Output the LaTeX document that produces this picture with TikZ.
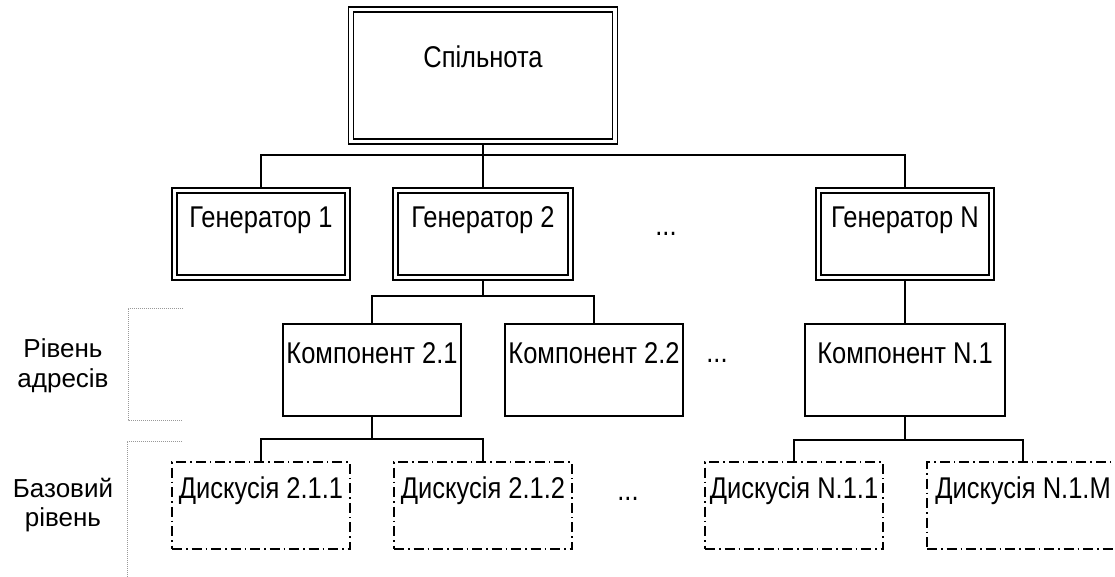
\documentclass[tikz,border=0pt]{standalone}
\usepackage{fontspec}
\setmainfont{Liberation Sans}[FakeStretch=0.85]
\newfontfamily\lvlfont{Liberation Sans}
\pgfdeclarelayer{bg}
\pgfsetlayers{bg,main}
\begin{document}
\begin{tikzpicture}[x=1pt,y=-1pt,line width=1.4pt,
  txt/.style={font=\fontsize{30}{32}\selectfont, inner sep=0pt},
  lvl/.style={font=\lvlfont\fontsize{26}{30}\selectfont, inner sep=0pt, anchor=base},
  gbox/.style={txt, draw, double, double distance=3.6pt, minimum width=173pt, text height=36.5pt, text depth=50.5pt},
  kbox/.style={txt, draw, minimum width=178pt, text height=39pt, text depth=53pt},
  dbox/.style={txt, draw, dash pattern=on 10pt off 4pt on 1.5pt off 4pt, minimum width=178pt, text height=36pt, text depth=51pt},
  brk/.style={draw=black!40, line width=0.8pt, dash pattern=on 1pt off 1pt},
  conn/.style={draw, line width=1.4pt}]
\useasboundingbox (0,0) rectangle (1115,576);

% boxes
\node[gbox, minimum width=264pt, text height=57.5pt, text depth=74.5pt] (top) at (483,75.5) {Спільнота};
\node[gbox] (g1) at (261,234) {Генератор 1};
\node[gbox, minimum width=175pt] (g2) at (483,234) {Генератор 2};
\node[gbox] (gN) at (905,234) {Генератор N};

\node[kbox] (k21) at (372,370) {Компонент 2.1};
\node[kbox] (k22) at (594,370) {Компонент 2.2};
\node[kbox, minimum width=200pt] (kN1) at (905,370) {Компонент N.1};

\node[dbox] (d211) at (261,505.5) {Дискусія 2.1.1};
\node[dbox] (d212) at (483,505.5) {Дискусія 2.1.2};
\node[dbox] (dN11) at (794,505.5) {Дискусія N.1.1};
\node[dbox, minimum width=192pt] (dN1M) at (1023,505.5) {Дискусія N.1.M};

% ellipses
\node[txt, anchor=base] (e1) at (666,235) {...};
\node[txt, anchor=base] (e2) at (717,362) {...};
\node[txt, anchor=base] (e3) at (628,500) {...};

% level labels
\node[lvl] (la1) at (63,357) {Рівень};
\node[lvl] (la2) at (63,387) {адресів};
\node[lvl] (lb1) at (63,497) {Базовий};
\node[lvl] (lb2) at (63,526) {рівень};

% brackets
\draw[brk] (183,308) -| (128,420) -- (183,420);
\draw[brk] (182,441) -| (127,590);

% connectors
\begin{pgfonlayer}{bg}
\coordinate (j1) at (483,155);
\coordinate (j2) at (483,296);
\coordinate (j3) at (372,439);
\coordinate (j4) at (905,440);
\draw[conn] (top.south) -- (g2.north);
\draw[conn] (g1.north) |- (j1) -| (gN.north);
\draw[conn] (g2.south) -- (j2);
\draw[conn] (k21.north) |- (j2) -| (k22.north);
\draw[conn] (gN.south) -- (kN1.north);
\draw[conn] (k21.south) -- (j3);
\draw[conn] (d211.north) |- (j3) -| (d212.north);
\draw[conn] (kN1.south) -- (j4);
\draw[conn] (dN11.north) |- (j4) -| (dN1M.north);
\end{pgfonlayer}
\end{tikzpicture}
\end{document}
